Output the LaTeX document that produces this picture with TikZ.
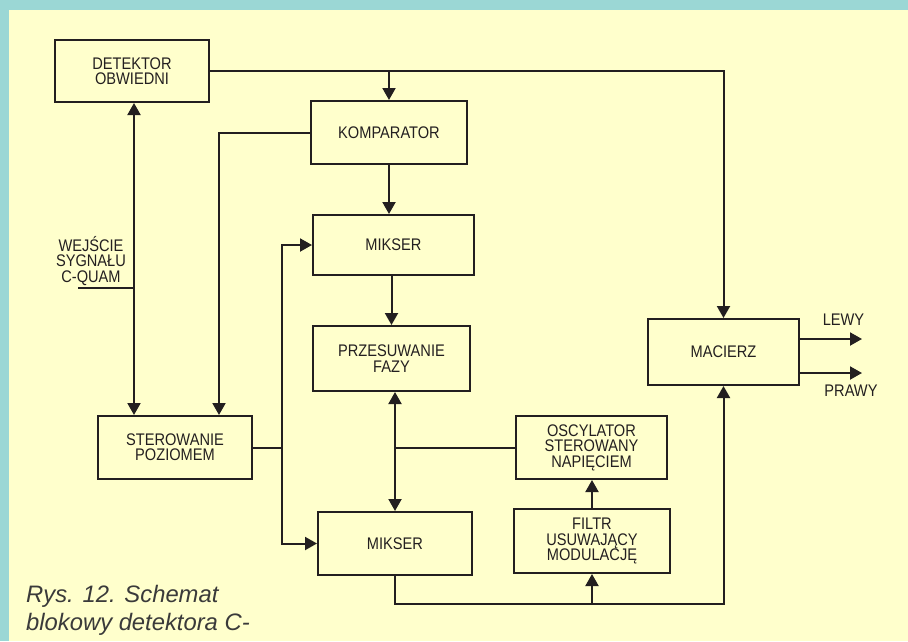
\documentclass[tikz,border=0pt]{standalone}
\usepackage{fontspec}
\setmainfont{Liberation Sans}
\newfontfamily\boxfont[FakeStretch=0.87]{Liberation Sans}
\usetikzlibrary{arrows.meta,calc}
\definecolor{bgteal}{HTML}{9BD7D5}
\definecolor{bgyel}{HTML}{FFFFCC}
\definecolor{ink}{HTML}{231F20}
\definecolor{captgray}{HTML}{3A3A3A}
\begin{document}
\begin{tikzpicture}[x=1pt,y=-1pt,
  box/.style={rectangle,draw=ink,line width=2pt,inner sep=0pt,align=center,
    text=ink,font=\boxfont\fontsize{16.8}{15.4}\selectfont},
  wire/.style={draw=ink,line width=2pt},
  arr/.style={wire,-{Triangle[length=12pt,width=13pt]}},
  dbl/.style={wire,{Triangle[length=12pt,width=13pt]}-{Triangle[length=12pt,width=13pt]}},
  lbl/.style={text=ink,align=center,inner sep=0pt,font=\boxfont\fontsize{16.8}{15.4}\selectfont},
  capt/.style={text=captgray,anchor=base west,inner sep=0pt,font=\fontsize{23.8}{28}\selectfont\itshape}]
\useasboundingbox (0,0) rectangle (908,641);
\fill[bgteal] (0,0) rectangle (908,641);
\fill[bgyel] (9,10) rectangle (908,641);

% boxes
\node[box,minimum width=154pt,minimum height=62pt] (det) at (132,71) {DETEKTOR\\OBWIEDNI};
\node[box,minimum width=156pt,minimum height=63pt] (komp) at (389,132.5) {KOMPARATOR};
\node[box,minimum width=161pt,minimum height=60pt] (mik1) at (393.5,245) {MIKSER};
\node[box,minimum width=157pt,minimum height=65pt] (prz) at (391.5,358.5) {PRZESUWANIE\\FAZY};
\node[box,minimum width=154pt,minimum height=63pt] (ster) at (175,447.5) {STEROWANIE\\POZIOMEM};
\node[box,minimum width=154pt,minimum height=63pt] (mik2) at (395,543.5) {MIKSER};
\node[box,minimum width=151pt,minimum height=63pt] (osc) at (591.5,447.5) {OSCYLATOR\\STEROWANY\\NAPIĘCIEM};
\node[box,minimum width=156pt,minimum height=64pt] (filtr) at (592,541) {FILTR\\USUWAJĄCY\\MODULACJĘ};
\node[box,minimum width=151pt,minimum height=66pt] (mac) at (723.5,352) {MACIERZ};

% labels
\node[lbl] (wej) at (91,261) {WEJŚCIE\\SYGNAŁU\\C-QUAM};
\node[lbl,anchor=base] (lewy) at (843.5,325) {LEWY};
\node[lbl,anchor=base] (prawy) at (851,396) {PRAWY};
\node[capt] (c1) at (26,602) {Rys. 12. Schemat};
\node[capt] (c2) at (26,630) {blokowy detektora C-};

% helper coordinates
\coordinate (inp) at (78,288);
\coordinate (j) at (134,288);
\coordinate (kx) at (219,0);
\coordinate (b) at (282,447.5);
\coordinate (bus) at (0,604);
\coordinate (l1) at (862,339);
\coordinate (l2) at (862,373);

% connectors
\draw[arr] (det.east) -| (mac.north);
\draw[arr] (det.east -| komp.north) -- (komp.north);
\draw[wire] (inp) -- (j);
\draw[dbl] (j |- det.south) -- (j |- ster.north);
\draw[arr] (komp.west) -| (kx |- ster.north);
\draw[arr] (komp.south) -- (komp.south |- mik1.north);
\draw[arr] (prz.north |- mik1.south) -- (prz.north);
\draw[wire] (ster.east) -- (b);
\draw[arr] (b) |- (mik1.west);
\draw[arr] (b) |- (mik2.west);
\draw[dbl] (mik2.north |- prz.south) -- (mik2.north);
\draw[wire] (mik2.north |- osc.west) -- (osc.west);
\draw[arr] (filtr.north) -- (filtr.north |- osc.south);
\draw[arr] (mik2.south) -- (mik2.south |- bus) -| (mac.south);
\draw[arr] (filtr.south |- bus) -- (filtr.south);
\draw[arr] (mac.east |- l1) -- (l1);
\draw[arr] (mac.east |- l2) -- (l2);
\end{tikzpicture}
\end{document}
